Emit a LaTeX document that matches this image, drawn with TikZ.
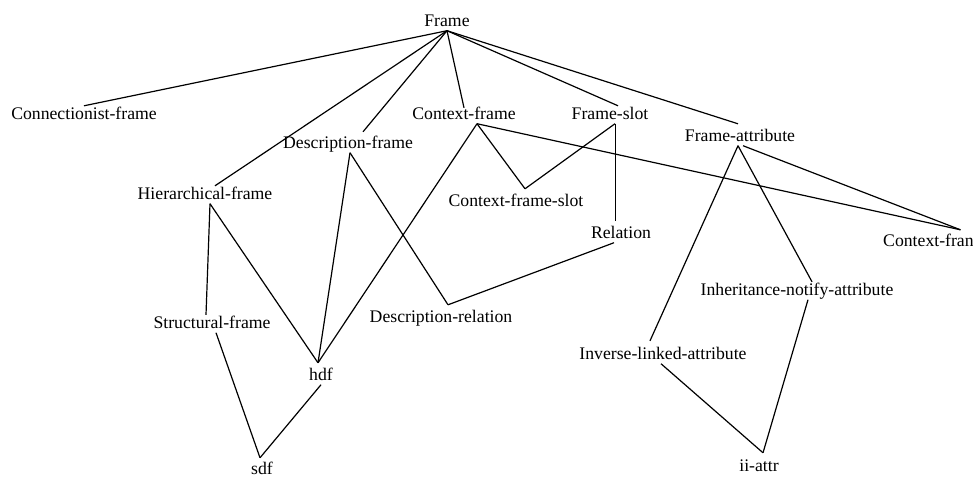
\documentclass[tikz,border=0pt]{standalone}
\usepackage{fontspec}
\setmainfont{Liberation Serif}
\begin{document}
\begin{tikzpicture}[x=1pt,y=-1pt,
  lbl/.style={inner sep=3pt, text height=1.5ex, text depth=.25ex, yshift=-3.5pt,
    font=\fontsize{17.7}{20}\selectfont},
  edge/.style={draw=black, line width=1.2pt}]
\clip (0,0) rectangle (973,477);
\fill[white] (0,0) rectangle (973,477);

% class hierarchy labels
\node[lbl] (frame)  at (447,20)  {Frame};
\node[lbl] (conn)   at (84,113)  {Connectionist-frame};
\node[lbl] (descf)  at (348,142) {Description-frame};
\node[lbl] (ctxf)   at (464,113) {Context-frame};
\node[lbl] (fslot)  at (610,113) {Frame-slot};
\node[lbl] (fattr)  at (740,135) {Frame-attribute};
\node[lbl] (hier)   at (205,193) {Hierarchical-frame};
\node[lbl] (cfslot) at (516,200) {Context-frame-slot};
\node[lbl] (rel)    at (621,232) {Relation};
\node[lbl,anchor=west] (cfa) at (880,240) {Context-fran};
\node[lbl] (inh)    at (797,289) {Inheritance-notify-attribute};
\node[lbl] (drel)   at (441,316) {Description-relation};
\node[lbl] (struct) at (212,322) {Structural-frame};
\node[lbl] (inv)    at (663,353) {Inverse-linked-attribute};
\node[lbl] (hdf)    at (321,374) {hdf};
\node[lbl] (sdf)    at (262,468) {sdf};
\node[lbl] (ii)     at (759,465) {ii-attr};

% links from Frame
\draw[edge] (frame.south) -- ([yshift=3.5pt]conn.north);
\draw[edge] (frame.south) -- ([xshift=10pt,yshift=3.5pt]hier.north);
\draw[edge] (frame.south) -- ([xshift=15pt,yshift=6.5pt]descf.north);
\draw[edge] (frame.south) -- ([yshift=1.5pt]ctxf.north);
\draw[edge] (frame.south) -- ([xshift=8pt,yshift=3.5pt]fslot.north);
\draw[edge] (frame.south) -- ([xshift=-2pt,yshift=7.5pt]fattr.north);

% Context-frame
\draw[edge] ([xshift=13pt]ctxf.south) -- ([xshift=9pt,yshift=7.5pt]cfslot.north);
\draw[edge] ([xshift=13pt]ctxf.south) -- ([xshift=-3pt,yshift=7.5pt]hdf.north);
\draw[edge] ([xshift=13pt]ctxf.south) -- ([xshift=32pt,yshift=6.5pt]cfa.north);

% Frame-slot
\draw[edge] ([xshift=5pt]fslot.south) -- ([xshift=9pt,yshift=7.5pt]cfslot.north);
\draw[edge] ([xshift=5.5pt]fslot.south) -- ([xshift=-5.5pt,yshift=7.5pt]rel.north);

% Frame-attribute
\draw[edge] ([xshift=-2pt]fattr.south) -- ([xshift=-13pt,yshift=8.5pt]inv.north);
\draw[edge] ([xshift=-2pt]fattr.south) -- ([xshift=15pt,yshift=3.5pt]inh.north);
\draw[edge] ([xshift=3pt]fattr.south) -- ([xshift=32pt,yshift=6.5pt]cfa.north);

% Description-frame
\draw[edge] ([xshift=2pt]descf.south) -- ([xshift=-3pt,yshift=7.5pt]hdf.north);
\draw[edge] ([xshift=2pt]descf.south) -- ([xshift=7pt,yshift=7.5pt]drel.north);

% Relation
\draw[edge] ([xshift=-7pt]rel.south) -- ([xshift=7pt,yshift=7.5pt]drel.north);

% Hierarchical-frame
\draw[edge] ([xshift=5pt]hier.south) -- ([xshift=-6pt,yshift=3.5pt]struct.north);
\draw[edge] ([xshift=5pt]hier.south) -- ([xshift=-3pt,yshift=7.5pt]hdf.north);

% lower frames
\draw[edge] ([xshift=4pt]struct.south) -- ([xshift=-2pt,yshift=6.5pt]sdf.north);
\draw[edge] (hdf.south) -- ([xshift=-2pt,yshift=6.5pt]sdf.north);

% attributes
\draw[edge] ([xshift=-2pt]inv.south) -- ([xshift=4pt,yshift=8.5pt]ii.north);
\draw[edge] ([xshift=11pt]inh.south) -- ([xshift=4pt,yshift=8.5pt]ii.north);
\end{tikzpicture}
\end{document}
